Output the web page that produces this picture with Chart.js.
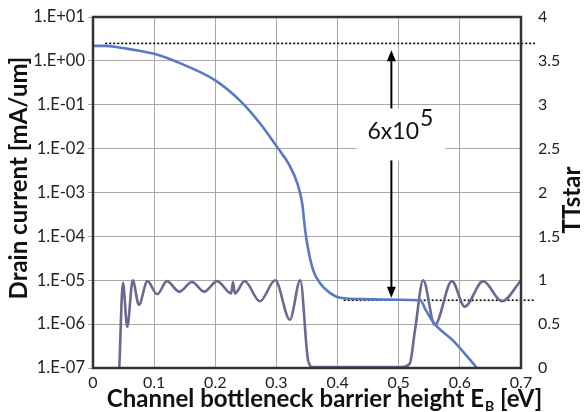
<!DOCTYPE html>
<html>
<head>
<meta charset="utf-8">
<script src="https://cdn.jsdelivr.net/npm/chart.js@4"></script>
<style>
  html, body { margin: 0; padding: 0; background: #fff; }
  #wrap { width: 584px; height: 412px; }
</style>
</head>
<body>
<div id="wrap"><canvas id="chart"></canvas></div>
<script>
// Drain current vs barrier height (eV -> mA/um)
const currentX = [0, 0.02, 0.04, 0.06, 0.08, 0.1, 0.142, 0.2, 0.24, 0.273, 0.303, 0.32, 0.335, 0.342, 0.347, 0.352, 0.36, 0.371, 0.388, 0.404, 0.45, 0.5, 0.535, 0.545, 0.559, 0.589, 0.628];
const currentY = [2.2, 2.2, 2.05, 1.85, 1.65, 1.45, 0.89, 0.36, 0.126, 0.038, 0.01, 0.0045, 0.0015, 0.00058, 0.00014, 0.00005, 0.000017, 0.0000087, 0.0000051, 0.000004, 0.0000037, 0.0000036, 0.0000035, 0.000002, 0.000001, 0.00000042, 0.0000001];

// TTstar (right axis)
const ttX = [0.043, 0.049, 0.056, 0.065, 0.075, 0.089, 0.105, 0.121, 0.141, 0.162, 0.182, 0.203, 0.226, 0.229, 0.232, 0.248, 0.273, 0.298, 0.322, 0.339, 0.352, 0.36, 0.4, 0.45, 0.505, 0.518, 0.527, 0.54, 0.559, 0.587, 0.608, 0.638, 0.669, 0.7];
const ttY = [0, 0.97, 0.47, 1.0, 0.72, 0.99, 0.84, 0.99, 0.87, 0.98, 0.87, 0.99, 0.85, 0.98, 0.85, 0.99, 0.76, 1.0, 0.55, 1.0, 0.08, 0.01, 0.01, 0.01, 0.01, 0.05, 0.45, 1.0, 0.49, 0.99, 0.70, 0.99, 0.76, 1.0];

// dotted on/off reference levels
const onLevel = 2.5;
const onLevelX = [0.02, 0.723];
const offLevel = 3.5e-6;
const offLevelX = [0.41, 0.723];

// ratio arrow and its label
const arrowX = 0.488;
const arrowTop = 1.75;
const arrowBottom = 4.0e-6;
const ratioBase = "6x10";
const ratioExp = "5";
const ratioX = 0.502;
const ratioY = 0.026;

const xTicks = [0, 0.1, 0.2, 0.3, 0.4, 0.5, 0.6, 0.7];
const currentTicks = [1e1, 1e0, 1e-1, 1e-2, 1e-3, 1e-4, 1e-5, 1e-6, 1e-7];
const ttTicks = [0, 0.5, 1, 1.5, 2, 2.5, 3, 3.5, 4];

const FONT = "Lato, 'Noto Sans', sans-serif";

function expLabel(v) {
  const e = Math.round(Math.log10(v));
  return "1.E" + (e < 0 ? "-" : "+") + String(Math.abs(e)).padStart(2, "0");
}

function pts(xs, ys) {
  return xs.map((x, i) => ({ x: x, y: ys[i] }));
}

function noPad(s) {
  s.paddingTop = 0;
  s.paddingBottom = 0;
  s.paddingLeft = 0;
  s.paddingRight = 0;
}

function vText(ctx, text, x, y) {
  ctx.save();
  ctx.translate(x, y);
  ctx.rotate(-Math.PI / 2);
  ctx.textAlign = "center";
  ctx.textBaseline = "middle";
  ctx.fillText(text, 0, 0);
  ctx.restore();
}

const overlay = {
  id: "overlay",
  afterDatasetsDraw(chart) {
    const { ctx, scales: { x, y } } = chart;
    const ax = x.getPixelForValue(arrowX);
    const top = y.getPixelForValue(arrowTop);
    const bot = y.getPixelForValue(arrowBottom);
    ctx.save();
    ctx.strokeStyle = "#000";
    ctx.fillStyle = "#000";
    ctx.lineWidth = 2;
    ctx.beginPath();
    ctx.moveTo(ax, top + 8);
    ctx.lineTo(ax, bot - 8);
    ctx.stroke();
    ctx.beginPath();
    ctx.moveTo(ax, top);
    ctx.lineTo(ax - 4.5, top + 11);
    ctx.lineTo(ax + 4.5, top + 11);
    ctx.closePath();
    ctx.fill();
    ctx.beginPath();
    ctx.moveTo(ax, bot);
    ctx.lineTo(ax - 4.5, bot - 11);
    ctx.lineTo(ax + 4.5, bot - 11);
    ctx.closePath();
    ctx.fill();

    // label on a white box
    const cx = x.getPixelForValue(ratioX);
    const cy = y.getPixelForValue(ratioY);
    ctx.font = "23px " + FONT;
    const w1 = ctx.measureText(ratioBase).width;
    const w2 = ctx.measureText(ratioExp).width;
    const left = cx - (w1 + w2) / 2;
    ctx.fillStyle = "#fff";
    ctx.fillRect(left - 11, cy - 22, w1 + w2 + 24, 52);
    ctx.fillStyle = "#111";
    ctx.textBaseline = "alphabetic";
    ctx.fillText(ratioBase, left, cy + 9);
    ctx.fillText(ratioExp, left + w1 + 1, cy - 4);
    ctx.restore();
  },
  afterDraw(chart) {
    const { ctx, chartArea: a } = chart;
    ctx.save();
    ctx.strokeStyle = "#333";
    ctx.lineWidth = 2.5;
    ctx.strokeRect(a.left, a.top, a.right - a.left, a.bottom - a.top);

    ctx.fillStyle = "#111";
    ctx.font = "bold 24px " + FONT;
    vText(ctx, "Drain current [mA/um]", 19, 178);
    vText(ctx, "TTstar", 572, 200);

    // x title with subscript
    const t1 = "Channel bottleneck barrier height E";
    const sub = "B";
    const t2 = " [eV]";
    ctx.font = "bold 24px " + FONT;
    const w1 = ctx.measureText(t1).width;
    const w3 = ctx.measureText(t2).width;
    ctx.font = "bold 14px " + FONT;
    const w2 = ctx.measureText(sub).width;
    const cx = (a.left + a.right) / 2 + 17;
    const px = cx - (w1 + w2 + w3) / 2;
    const base = 407;
    ctx.font = "bold 24px " + FONT;
    ctx.fillText(t1, px, base);
    ctx.font = "bold 14px " + FONT;
    ctx.fillText(sub, px + w1 + 1, base + 4);
    ctx.font = "bold 24px " + FONT;
    ctx.fillText(t2, px + w1 + w2 + 1, base);
    ctx.restore();
  }
};

new Chart(document.getElementById("chart"), {
  type: "line",
  data: {
    datasets: [
      {
        label: "Drain current",
        data: pts(currentX, currentY),
        yAxisID: "y",
        borderColor: "#5a78c4",
        borderWidth: 2.6,
        pointRadius: 0,
        cubicInterpolationMode: "monotone"
      },
      {
        label: "TTstar",
        data: pts(ttX, ttY),
        yAxisID: "y1",
        borderColor: "#6b6892",
        borderWidth: 2.6,
        pointRadius: 0,
        cubicInterpolationMode: "monotone"
      },
      {
        label: "on level",
        data: pts(onLevelX, [onLevel, onLevel]),
        yAxisID: "y",
        borderColor: "#000",
        borderWidth: 1.6,
        borderDash: [2, 2],
        pointRadius: 0,
        clip: false
      },
      {
        label: "off level",
        data: pts(offLevelX, [offLevel, offLevel]),
        yAxisID: "y",
        borderColor: "#000",
        borderWidth: 1.6,
        borderDash: [2, 2],
        pointRadius: 0,
        clip: false
      }
    ]
  },
  options: {
    responsive: true,
    maintainAspectRatio: false,
    animation: false,
    layout: { padding: { top: 17, left: 0, right: 0, bottom: 0 } },
    plugins: {
      legend: { display: false },
      tooltip: { enabled: false }
    },
    scales: {
      x: {
        type: "linear",
        min: 0,
        max: 0.7,
        afterBuildTicks: s => { s.ticks = xTicks.map(v => ({ value: v })); },
        afterFit: s => { s.height = 44; noPad(s); },
        grid: { color: "#a8a8a8", lineWidth: 1, drawTicks: false },
        border: { display: false },
        ticks: {
          padding: 5,
          maxRotation: 0,
          color: "#222",
          font: { family: FONT, size: 16 },
          callback: v => String(Math.round(v * 10) / 10)
        }
      },
      y: {
        type: "logarithmic",
        position: "left",
        min: 1e-7,
        max: 1e1,
        afterBuildTicks: s => { s.ticks = currentTicks.map(v => ({ value: v })); },
        afterFit: s => { s.width = 93; noPad(s); },
        grid: { color: "#a8a8a8", lineWidth: 1, tickLength: 5 },
        border: { display: false },
        ticks: {
          padding: 3,
          color: "#222",
          font: { family: FONT, size: 16.5 },
          callback: v => expLabel(v)
        }
      },
      y1: {
        type: "linear",
        position: "right",
        min: 0,
        max: 4,
        afterBuildTicks: s => { s.ticks = ttTicks.map(v => ({ value: v })); },
        afterFit: s => { s.width = 63; noPad(s); },
        grid: { display: false, drawTicks: false },
        border: { display: false },
        ticks: {
          padding: 17,
          color: "#222",
          font: { family: FONT, size: 16 },
          callback: v => String(v)
        }
      }
    }
  },
  plugins: [overlay]
});
</script>
</body>
</html>
